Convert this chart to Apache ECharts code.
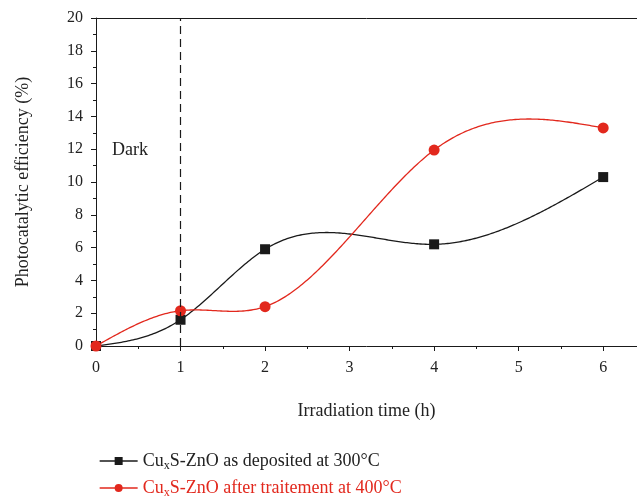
<!DOCTYPE html>
<html>
<head>
<meta charset="utf-8">
<script src="https://cdn.jsdelivr.net/npm/echarts@6/dist/echarts.min.js"></script>
<style>
  html, body { margin: 0; padding: 0; background: #fff; }
  #chart { width: 637px; height: 496px; }
</style>
</head>
<body>
<div id="chart"></div>
<script>
  // irradiation time (h)
  const times = [0, 1, 2, 4, 6];
  // photocatalytic efficiency (%)
  const asDeposited = [0, 1.6, 5.9, 6.2, 10.3];
  const annealed = [0, 2.15, 2.4, 11.95, 13.3];
  const seriesNames = ['CuxS-ZnO as deposited at 300°C', 'CuxS-ZnO after traitement at 400°C'];
  const legendRich = ['{a|Cu}{s|x}{a|S-ZnO as deposited at 300°C}', '{b|Cu}{t|x}{b|S-ZnO after traitement at 400°C}'];

  const BLACK = '#1a1a1a';
  const RED = '#e2281d';
  const FONT = '"Liberation Serif", "DejaVu Serif", serif';

  // natural cubic spline through the measured points (like the origin plot)
  function spline(xs, ys) {
    const n = xs.length;
    const h = [], M = new Array(n).fill(0);
    for (let i = 0; i < n - 1; i++) h.push(xs[i + 1] - xs[i]);
    const a = [], b = [], c = [], d = [];
    for (let i = 1; i < n - 1; i++) {
      a.push(h[i - 1]);
      b.push(2 * (h[i - 1] + h[i]));
      c.push(h[i]);
      d.push(6 * ((ys[i + 1] - ys[i]) / h[i] - (ys[i] - ys[i - 1]) / h[i - 1]));
    }
    const m = b.length;
    for (let i = 1; i < m; i++) {
      const w = a[i] / b[i - 1];
      b[i] -= w * c[i - 1];
      d[i] -= w * d[i - 1];
    }
    const sol = new Array(m);
    sol[m - 1] = d[m - 1] / b[m - 1];
    for (let i = m - 2; i >= 0; i--) sol[i] = (d[i] - c[i] * sol[i + 1]) / b[i];
    for (let i = 0; i < m; i++) M[i + 1] = sol[i];
    return function (x) {
      let i = 0;
      while (i < n - 2 && x > xs[i + 1]) i++;
      const t1 = xs[i + 1] - x, t0 = x - xs[i], hi = h[i];
      return M[i] * t1 * t1 * t1 / (6 * hi) + M[i + 1] * t0 * t0 * t0 / (6 * hi)
        + (ys[i] / hi - M[i] * hi / 6) * t1 + (ys[i + 1] / hi - M[i + 1] * hi / 6) * t0;
    };
  }

  function curveSeries(ys, color) {
    const f = spline(times, ys);
    return {
      type: 'custom',
      silent: true,
      z: 2,
      data: [[times[0], ys[0]]],
      renderItem: function (params, api) {
        const pts = [];
        const x0 = times[0], x1 = times[times.length - 1];
        for (let k = 0; k <= 300; k++) {
          const x = x0 + (x1 - x0) * k / 300;
          pts.push(api.coord([x, f(x)]));
        }
        return {
          type: 'polyline',
          shape: { points: pts },
          style: { stroke: color, lineWidth: 1.3, fill: null }
        };
      }
    };
  }

  function pairs(ys) {
    return times.map((t, i) => [t, ys[i]]);
  }

  function legendFor(idx, color, top) {
    return {
      orient: 'vertical',
      left: 94, top: top,
      itemWidth: 38, itemHeight: 10,
      data: [{ name: seriesNames[idx], lineStyle: { opacity: 1, width: 1.3, color: color } }],
      formatter: function (name) {
        return legendRich[seriesNames.indexOf(name)];
      },
      textStyle: {
        fontFamily: FONT,
        rich: {
          a: { fontSize: 18, color: '#222', fontFamily: FONT },
          s: { fontSize: 12, color: '#222', fontFamily: FONT, padding: [10, 0, 0, 0] },
          b: { fontSize: 18, color: RED, fontFamily: FONT },
          t: { fontSize: 12, color: RED, fontFamily: FONT, padding: [10, 0, 0, 0] }
        }
      }
    };
  }

  let chart = echarts.init(document.getElementById('chart'));
  let option = {
    animation: false,
    textStyle: { fontFamily: FONT },
    grid: { left: 96, right: 0, top: 18, bottom: 150 },
    xAxis: [
      {
        type: 'value',
        min: 0, max: 6.4, interval: 1,
        name: 'Irradiation time (h)',
        nameLocation: 'middle',
        nameGap: 56,
        nameTextStyle: { fontSize: 18, color: '#222', fontFamily: FONT },
        axisLine: { lineStyle: { color: BLACK, width: 1 } },
        axisTick: { show: true, length: 5, lineStyle: { color: BLACK } },
        minorTick: { show: true, splitNumber: 2, length: 3, lineStyle: { color: BLACK } },
        axisLabel: { fontSize: 16, color: '#222', margin: 14, showMaxLabel: false, fontFamily: FONT },
        splitLine: { show: false }
      },
      {
        type: 'value', position: 'top',
        min: 0, max: 6.4, interval: 1,
        axisLine: { show: true, lineStyle: { color: BLACK, width: 1 } },
        axisTick: { show: false },
        axisLabel: { show: false },
        splitLine: { show: false }
      }
    ],
    yAxis: {
      type: 'value',
      min: 0, max: 20, interval: 2,
      name: 'Photocatalytic efficiency (%)',
      nameLocation: 'middle',
      nameGap: 64,
      nameTextStyle: { fontSize: 18, color: '#222', fontFamily: FONT },
      axisLine: { show: true, lineStyle: { color: BLACK, width: 1 } },
      axisTick: { show: true, length: 5, lineStyle: { color: BLACK } },
      minorTick: { show: true, splitNumber: 2, length: 3, lineStyle: { color: BLACK } },
      axisLabel: { fontSize: 16, color: '#222', margin: 13, fontFamily: FONT },
      splitLine: { show: false }
    },
    legend: [
      legendFor(0, BLACK, 447),
      legendFor(1, RED, 474)
    ],
    graphic: [
      {
        type: 'text', left: 112, top: 141,
        style: { text: 'Dark', font: '18px ' + FONT, fill: '#222' }
      }
    ],
    series: [
      curveSeries(asDeposited, BLACK),
      curveSeries(annealed, RED),
      {
        name: seriesNames[0],
        type: 'line',
        z: 3,
        data: pairs(asDeposited),
        symbol: 'rect', symbolSize: 10,
        itemStyle: { color: BLACK },
        lineStyle: { opacity: 0 },
        markLine: {
          silent: true,
          symbol: 'none',
          label: { show: false },
          lineStyle: { color: BLACK, type: [8, 5], width: 1.2 },
          data: [{ xAxis: 1 }]
        }
      },
      {
        name: seriesNames[1],
        type: 'line',
        z: 4,
        data: pairs(annealed),
        symbol: 'circle', symbolSize: 11,
        itemStyle: { color: RED },
        lineStyle: { opacity: 0 }
      }
    ]
  };
  option && chart.setOption(option);
</script>
</body>
</html>
